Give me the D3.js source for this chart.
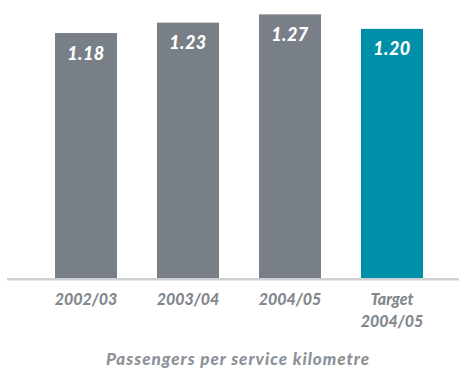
<!DOCTYPE html>
<html>
<head>
<meta charset="utf-8">
<script src="https://cdn.jsdelivr.net/npm/d3@7"></script>
<style>
  html, body { margin: 0; padding: 0; background: #ffffff; }
  svg { display: block; }
  text { font-family: Lato, "Open Sans", sans-serif; font-weight: 900; font-style: italic; }
</style>
</head>
<body>
<svg id="chart" width="459" height="369"></svg>
<script>
// Passengers per service kilometre by year
const categories = ["2002/03", "2003/04", "2004/05", "Target\n2004/05"];
const values = [1.18, 1.23, 1.27, 1.20];
const barColors = ["#797f86", "#797f86", "#797f86", "#008fa9"];
const axisTitle = "Passengers per service kilometre";

const svg = d3.select("#chart");
const W = 459, baseY = 278;

const x = d3.scaleBand()
  .domain(categories)
  .range([35, 443])
  .paddingInner(0.392)
  .paddingOuter(0.196);

const y = d3.scaleLinear()
  .domain([0, 1.3])
  .range([baseY, baseY - 1.3 * 207.6]);

// bars
svg.selectAll("rect.bar")
  .data(values)
  .join("rect")
  .attr("class", "bar")
  .attr("x", (d, i) => x(categories[i]))
  .attr("y", d => y(d))
  .attr("width", x.bandwidth())
  .attr("height", d => y(0) - y(d))
  .attr("fill", (d, i) => barColors[i]);

// value labels inside bars
svg.selectAll("text.val")
  .data(values)
  .join("text")
  .attr("class", "val")
  .attr("x", (d, i) => x(categories[i]) + x.bandwidth() / 2)
  .attr("y", d => y(d) + 26.5)
  .attr("text-anchor", "middle")
  .attr("fill", "#ffffff")
  .attr("font-size", 18)
  .attr("letter-spacing", 0.5)
  .text(d => d.toFixed(2));

// baseline
svg.append("line")
  .attr("x1", 7).attr("x2", W)
  .attr("y1", baseY + 1.3).attr("y2", baseY + 1.3)
  .attr("stroke", "#cdd1d4")
  .attr("stroke-width", 2.6);

// category labels
const ticks = svg.selectAll("text.tick")
  .data(categories)
  .join("text")
  .attr("class", "tick")
  .attr("x", d => x(d) + x.bandwidth() / 2)
  .attr("y", 305)
  .attr("text-anchor", "middle")
  .attr("fill", "#82888e")
  .attr("font-size", 16);

ticks.each(function(d) {
  const t = d3.select(this);
  d.split("\n").forEach((line, i) => {
    t.append("tspan")
      .attr("x", x(d) + x.bandwidth() / 2)
      .attr("dy", i === 0 ? 0 : 21.7)
      .text(line);
  });
});

// axis title
svg.append("text")
  .attr("x", 238)
  .attr("y", 364.5)
  .attr("text-anchor", "middle")
  .attr("fill", "#8c9298")
  .attr("font-size", 17)
  .attr("letter-spacing", 1)
  .text(axisTitle);
</script>
</body>
</html>
